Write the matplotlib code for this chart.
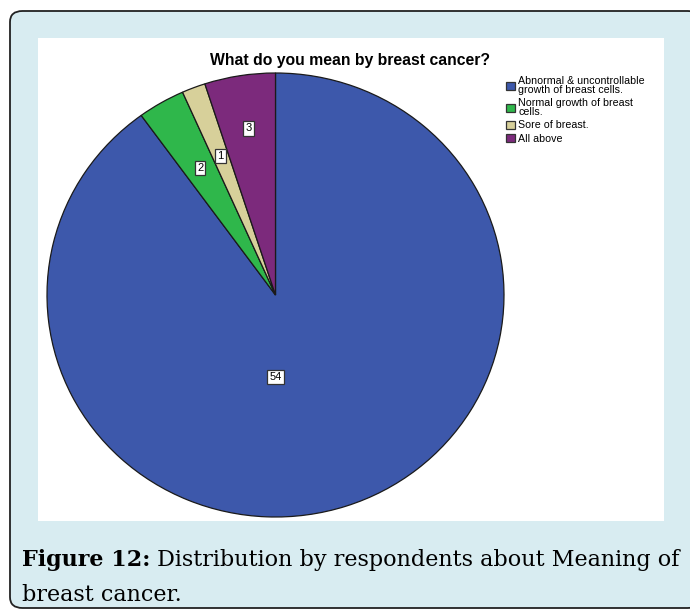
import numpy as np
import matplotlib
matplotlib.use("Agg")
import matplotlib.pyplot as plt
from matplotlib.patches import FancyBboxPatch, Rectangle, Patch

# Survey responses: "What do you mean by breast cancer?"
categories = [
    "Abnormal & uncontrollable\ngrowth of breast cells.",
    "Normal growth of breast\ncells.",
    "Sore of breast.",
    "All above",
]
counts = [54, 2, 1, 3]
colors = ["#3d58ab", "#2fb74b", "#d7d09a", "#7c2a7c"]

W, H = 690, 610
fig = plt.figure(figsize=(W / 100, H / 100), dpi=100)
fig.patch.set_facecolor("white")

def fx(px):
    return px / W

def fy(py):
    return 1 - py / H

# Light blue rounded frame
frame = FancyBboxPatch((fx(10), fy(608)), fx(700) - fx(10), fy(11) - fy(608),
                       boxstyle="round,pad=0,rounding_size=0.018",
                       transform=fig.transFigure, facecolor="#d8ecf1",
                       edgecolor="#222222", linewidth=1.3, zorder=0)
fig.patches.append(frame)

# White chart panel
panel = Rectangle((fx(38), fy(521)), fx(664) - fx(38), fy(38) - fy(521),
                  transform=fig.transFigure, facecolor="white",
                  edgecolor="none", zorder=1)
fig.patches.append(panel)

# Pie axes (slightly elliptical, as rendered)
left, right, top, bottom = 47, 504, 73, 517
ax = fig.add_axes([fx(left), fy(bottom), fx(right) - fx(left), fy(top) - fy(bottom)])
ax.set_zorder(2)
wedges, _ = ax.pie(counts, colors=colors, startangle=90, counterclock=False,
                   wedgeprops=dict(edgecolor="#1a1a1a", linewidth=0.9),
                   radius=1.0)
ax.set_aspect("auto")
ax.set_xlim(-1, 1)
ax.set_ylim(-1, 1)
ax.axis("off")

# Value labels inside slices
total = float(sum(counts))
cum = np.cumsum([0] + counts)
label_r = [0.37, 0.66, 0.67, 0.76]
for i, c in enumerate(counts):
    mid = (cum[i] + cum[i + 1]) / 2 / total * 360.0  # clockwise from top
    if i == 0:
        mid = 180.0
    th = np.deg2rad(90 - mid)
    x, y = label_r[i] * np.cos(th), label_r[i] * np.sin(th)
    ax.text(x, y, str(c), ha="center", va="center", fontsize=8,
            family="Liberation Sans",
            bbox=dict(boxstyle="square,pad=0.2", facecolor="white",
                      edgecolor="#333333", linewidth=0.9))

# Title
fig.text(fx(350), fy(61), "What do you mean by breast cancer?", ha="center",
         va="center", fontsize=11.3, fontweight="bold", family="Liberation Sans",
         zorder=3)

# Legend
handles = [Patch(facecolor=c, edgecolor="#333333", linewidth=0.9) for c in colors]
leg = fig.legend(handles, categories, loc="upper left",
                 bbox_to_anchor=(fx(506), fy(76)), frameon=False,
                 prop=dict(family="Liberation Sans", size=7.7),
                 handlelength=0.85, handleheight=0.85, handletextpad=0.3,
                 labelspacing=0.3, borderaxespad=0, borderpad=0)
for t in leg.get_texts():
    t.set_linespacing(0.88)

# Caption, sized so the first line spans the frame width
cap_family = "DejaVu Serif"
cap_size = 16.0
line1_head = "Figure 12:"
line1_tail = "Distribution by respondents about Meaning of"
line2 = "breast cancer."
cap_x0, cap_x1 = 22, 682

def caption_width(size):
    a = fig.text(0, 0, line1_head, fontsize=size, fontweight="bold", family=cap_family)
    b = fig.text(0, 0, " " + line1_tail, fontsize=size, family=cap_family)
    fig.canvas.draw()
    w = a.get_window_extent().width + b.get_window_extent().width
    a.remove()
    b.remove()
    return w

cap_size = cap_size * (cap_x1 - cap_x0) / caption_width(cap_size)

t1 = fig.text(fx(cap_x0), fy(566), line1_head, ha="left", va="baseline",
              fontsize=cap_size, fontweight="bold", family=cap_family, zorder=3)
fig.canvas.draw()
bb = t1.get_window_extent()
fig.text(bb.x1 / W, fy(566), " " + line1_tail,
         ha="left", va="baseline", fontsize=cap_size, family=cap_family,
         zorder=3)
fig.text(fx(cap_x0), fy(601), line2, ha="left", va="baseline",
         fontsize=cap_size, family=cap_family, zorder=3)

fig.savefig("out.png", dpi=100)
